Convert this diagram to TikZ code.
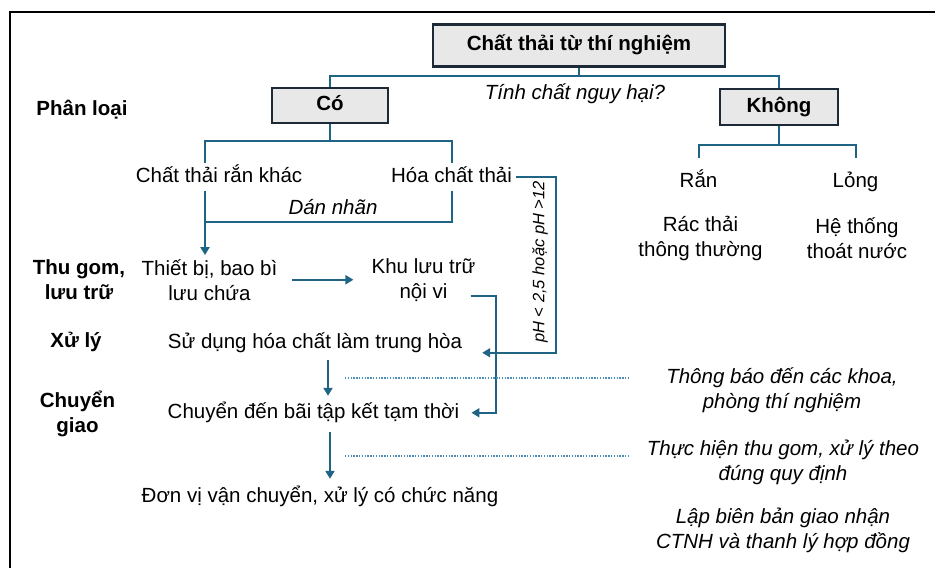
\documentclass[tikz,border=0pt]{standalone}
\usepackage{fontspec}
\setmainfont{Liberation Sans}
\usetikzlibrary{arrows.meta}

\definecolor{linkblue}{HTML}{1F6485}
\definecolor{boxedge}{HTML}{1C2A38}
\definecolor{boxgray}{HTML}{E8E8E8}
\definecolor{dotblue}{HTML}{4B8FBA}
\newcommand{\bigtext}{\fontsize{20.5}{25}\selectfont}

\begin{document}
\begin{tikzpicture}[x=1pt,y=-1pt,
    every node/.style={font=\bigtext, align=center, inner sep=4pt},
    oneline/.style={text height=15pt, text depth=4.5pt},
    box/.style={draw=boxedge, fill=boxgray, line width=2.2pt, font=\bigtext\bfseries, oneline},
    stage/.style={font=\bigtext\bfseries},
    remark/.style={font=\bigtext\itshape},
    link/.style={draw=linkblue, line width=2pt},
    arr/.style={link, -{Triangle[length=8pt,width=9pt]}},
    guide/.style={draw=dotblue, line width=1.8pt, dash pattern=on 1.3pt off 1.5pt}]

  \useasboundingbox (0,0) rectangle (935,568);

  % Frame
  \draw[line width=2pt] (10,568) -- (10,12) -- (935,12);

  % Boxes
  \node[box, minimum width=292pt, minimum height=42pt] (waste) at (579,45.5) {Chất thải từ thí nghiệm};
  \node[box, minimum width=116pt, minimum height=35pt] (yes) at (330,105.5) {Có};
  \node[box, minimum width=118pt, minimum height=36pt] (no) at (779,107) {Không};

  % Stage labels
  \node[stage, oneline] (classify) at (82,109.75) {Phân loại};
  \node[stage] (collect) at (79,279.75) {Thu gom,\\lưu trữ};
  \node[stage, oneline] (treat) at (76,341.75) {Xử lý};
  \node[stage] (transfer) at (77.5,414.25) {Chuyển\\giao};

  % Items
  \node[remark, oneline] (hazard) at (575,93.75) {Tính chất nguy hại?};
  \node[oneline] (solid) at (219,176.75) {Chất thải rắn khác};
  \node[oneline] (chem) at (451.5,176.75) {Hóa chất thải};
  \node[oneline] (ran) at (698.5,181.75) {Rắn};
  \node[oneline] (long) at (855.5,181.75) {Lỏng};
  \node (trash) at (700.5,238.25) {Rác thải\\thông thường};
  \node (drain) at (857,238.25) {Hệ thống\\thoát nước};
  \node[remark, oneline] (label) at (333,208.75) {Dán nhãn};
  \node (container) at (209.5,279.75) {Thiết bị, bao bì\\lưu chứa};
  \node (store) at (423.5,279.75) {Khu lưu trữ\\nội vi};
  \node[oneline] (neutral) at (315,342.75) {Sử dụng hóa chất làm trung hòa};
  \node[oneline] (yard) at (313.5,412.75) {Chuyển đến bãi tập kết tạm thời};
  \node[oneline] (unit) at (320,496.75) {Đơn vị vận chuyển, xử lý có chức năng};
  \node[remark, rotate=90, oneline, font=\fontsize{16.5}{20}\selectfont\itshape] (ph) at (539,262) {pH < 2,5 hoặc pH >12};

  % Notes
  \node[remark] (notify) at (782,389.75) {Thông báo đến các khoa,\\phòng thí nghiệm};
  \node[remark] (rules) at (783,462.25) {Thực hiện thu gom, xử lý theo\\đúng quy định};
  \node[remark] (handover) at (783,530.25) {Lập biên bản giao nhận\\CTNH và thanh lý hợp đồng};

  % Tree connectors
  \coordinate (split) at (579,76);
  \coordinate (yessplit) at (330,141);
  \coordinate (nosplit) at (779,145);
  \coordinate (tagjoin) at (205,222);
  \draw[link] (waste.south) -- (split);
  \draw[link] (yes.north) |- (split) -| (no.north);
  \draw[link] (yes.south) -- (yessplit);
  \draw[link] ([xshift=-14pt]solid.north) |- (yessplit) -| (chem.north);
  \draw[link] (no.south) -- (nosplit);
  \draw[link] ([yshift=10pt]ran.north) |- (nosplit) -| ([yshift=10pt]long.north);

  % Flow arrows
  \draw[arr] ([xshift=-14pt]solid.south) -- ([xshift=-14pt]solid.south |- container.north);
  \draw[link] (chem.south) |- (tagjoin);
  \draw[arr, shorten <=10pt, shorten >=14pt] (container.east) -- (store.west);
  \draw[arr, shorten >=8pt] ([shift={(-9,16)}]store.east) -- ++(25,0) |- (yard.east);
  \draw[arr, shorten >=16pt] (chem.east) -- ++(40,0) |- ([yshift=-10pt]neutral.east);
  \draw[arr, shorten <=3pt, shorten >=3pt] ([xshift=13pt]neutral.south) -- ([xshift=13pt]neutral.south |- yard.north);
  \draw[arr, shorten <=5pt, shorten >=4pt] ([xshift=16.5pt]yard.south) -- ([xshift=16.5pt]yard.south |- unit.north);

  % Dotted guides
  \coordinate (guideA) at (345,378);
  \coordinate (guideB) at (345,456);
  \draw[guide, shorten >=33pt] (guideA) -- (guideA -| notify.west);
  \draw[guide, shorten >=13pt] (guideB) -- (guideB -| rules.west);
\end{tikzpicture}
\end{document}
